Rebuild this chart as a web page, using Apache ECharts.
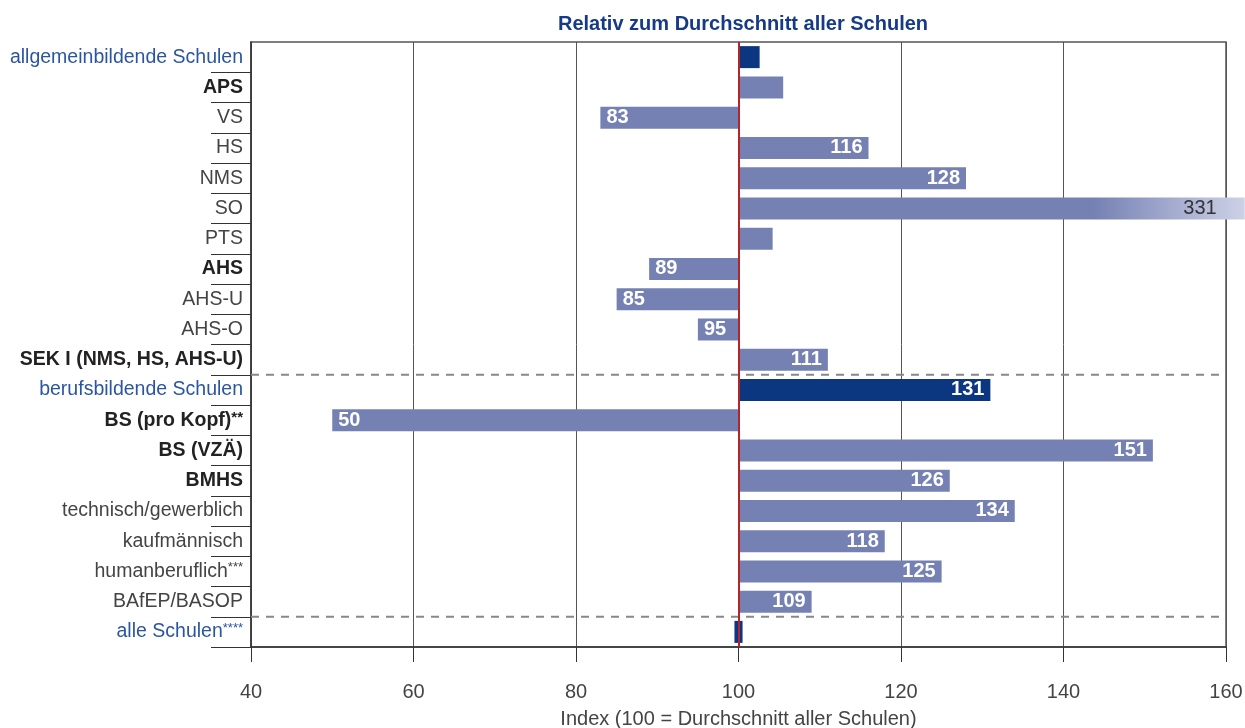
<!DOCTYPE html>
<html>
<head>
<meta charset="utf-8">
<script src="https://cdn.jsdelivr.net/npm/echarts@6/dist/echarts.min.js"></script>
<style>
  html, body { margin: 0; padding: 0; background: #fff; }
  #chart { width: 1245px; height: 728px; }
</style>
</head>
<body>
<div id="chart"></div>
<script>
// Kategorien (von oben nach unten)
const categories = [
  "allgemeinbildende Schulen", "APS", "VS", "HS", "NMS", "SO", "PTS", "AHS",
  "AHS-U", "AHS-O", "SEK I (NMS, HS, AHS-U)", "berufsbildende Schulen",
  "BS (pro Kopf)**", "BS (VZÄ)", "BMHS", "technisch/gewerblich",
  "kaufmännisch", "humanberuflich***", "BAfEP/BASOP", "alle Schulen****"
];
// group = blaue Überschrift, total = fett, sub = normal
const kinds = [
  "group", "total", "sub", "sub", "sub", "sub", "sub", "total",
  "sub", "sub", "total", "group",
  "total", "total", "total", "sub",
  "sub", "sub", "sub", "group"
];
const values = [
  102.6, 105.5, 83, 116, 128, 331, 104.2, 89,
  85, 95, 111, 131,
  50, 151, 126, 134,
  118, 125, 109, 100
];
const valueLabels = [
  "", "", "83", "116", "128", "331", "", "89",
  "85", "95", "111", "131",
  "50", "151", "126", "134",
  "118", "125", "109", ""
];
const xTicks = [40, 60, 80, 100, 120, 140, 160];
const separatorsAfter = ["SEK I (NMS, HS, AHS-U)", "BAfEP/BASOP"];

const base = 100;
const xMin = 40, xMax = 160;
const clipAt = 162.3;     // Balken über dem Rand werden hier abgeschnitten
const markerWidth = 1;    // "alle Schulen" = schmale Markierung bei 100

const light = "#7581b3";
const dark = "#0b3680";

var myChart = echarts.init(document.getElementById("chart"));

var baseData = values.map(function (v, i) {
  if (kinds[i] === "group" && v === base) return base - markerWidth / 2;
  return Math.min(v, base);
});
var barData = values.map(function (v, i) {
  var isGroup = kinds[i] === "group";
  var len = v === base ? markerWidth : Math.abs(Math.min(v, clipAt) - base);
  var item = {
    value: len,
    itemStyle: { color: isGroup ? dark : light },
    label: { position: v < base ? "insideLeft" : "insideRight" }
  };
  if (v > xMax) {
    item.itemStyle.color = new echarts.graphic.LinearGradient(0, 0, 1, 0, [
      { offset: 0, color: light },
      { offset: 0.7, color: light },
      { offset: 1, color: "#cdd1e7" }
    ]);
    item.label.color = "#333";
    item.label.fontWeight = "normal";
    item.label.distance = 28;
  }
  return item;
});

function labelFormatter(value) {
  var i = categories.indexOf(value);
  var m = value.match(/^(.*?)(\*+)$/);
  var main = m ? m[1] : value;
  var stars = m ? m[2] : "";
  var k = kinds[i];
  var s = "{" + k + "|" + main + "}";
  if (stars) s += "{" + k + "Sup|" + stars + "}";
  return s;
}

var fontFamily = "'Liberation Sans', Arial, sans-serif";

let option = {
  animation: false,
  textStyle: { fontFamily: fontFamily },
  title: {
    text: "Relativ zum Durchschnitt aller Schulen",
    left: 738,
    textAlign: "center",
    top: 9,
    textStyle: { color: "#173a87", fontSize: 20, fontWeight: "bold", fontFamily: fontFamily }
  },
  grid: {
    left: 251,
    right: 19,
    top: 42,
    bottom: 81,
    outerBoundsMode: "none",
    containLabel: false,
    show: true,
    borderColor: "#555",
    borderWidth: 1.5
  },
  xAxis: {
    type: "value",
    min: xMin,
    max: xMax,
    interval: 20,
    axisLine: { show: true, onZero: false, lineStyle: { color: "#333", width: 1.5 } },
    axisTick: { show: true, length: 15, lineStyle: { color: "#333" } },
    splitLine: { show: true, lineStyle: { color: "#555", width: 1 } },
    axisLabel: {
      color: "#444",
      fontSize: 20,
      margin: 35,
      formatter: function (v) { return xTicks.indexOf(v) >= 0 ? String(v) : ""; }
    },
    name: "Index (100 = Durchschnitt aller Schulen)",
    nameLocation: "middle",
    nameGap: 62,
    nameTextStyle: { color: "#444", fontSize: 20 }
  },
  yAxis: {
    type: "category",
    inverse: true,
    data: categories,
    axisLine: { show: true, lineStyle: { color: "#333", width: 1.5 } },
    axisTick: {
      show: true,
      length: 40,
      interval: function (index) { return index !== 0; },
      lineStyle: { color: "#333" }
    },
    axisLabel: {
      margin: 8,
      interval: 0,
      formatter: labelFormatter,
      rich: {
        group: { color: "#2b55a3", fontSize: 19.5 },
        groupSup: { color: "#2b55a3", fontSize: 13, verticalAlign: "top" },
        total: { color: "#222", fontSize: 19.5, fontWeight: "bold" },
        totalSup: { color: "#222", fontSize: 15, fontWeight: "bold", verticalAlign: "top" },
        sub: { color: "#444", fontSize: 19.5 },
        subSup: { color: "#444", fontSize: 13, verticalAlign: "top" }
      }
    }
  },
  series: [
    {
      name: "base",
      type: "bar",
      stack: "b",
      silent: true,
      barWidth: 22,
      itemStyle: { color: "transparent" },
      data: baseData
    },
    {
      name: "index",
      type: "bar",
      stack: "b",
      barWidth: 22,
      clip: false,
      data: barData,
      label: {
        show: true,
        color: "#fff",
        fontSize: 20,
        fontWeight: "bold",
        distance: 6,
        formatter: function (p) { return valueLabels[p.dataIndex]; }
      },
      markLine: {
        silent: true,
        symbol: "none",
        label: { show: false },
        lineStyle: { color: "#b0262c", width: 2, type: "solid" },
        data: [{ xAxis: base }]
      }
    },
    {
      // gestrichelte Trennlinien zwischen den Gruppen
      type: "custom",
      silent: true,
      data: separatorsAfter.map(function (c) { return [xMin, categories.indexOf(c)]; }),
      encode: { x: 0, y: 1 },
      renderItem: function (params, api) {
        var idx = api.value(1);
        var p0 = api.coord([xMin, idx]);
        var p1 = api.coord([xMax, idx]);
        var band = api.size([0, 1])[1];
        var y = p0[1] + band / 2;
        return {
          type: "line",
          shape: { x1: p0[0], y1: y, x2: p1[0], y2: y },
          style: { stroke: "#888", lineWidth: 2, lineDash: [8, 7] }
        };
      }
    }
  ]
};

myChart.setOption(option, true);
</script>
</body>
</html>
